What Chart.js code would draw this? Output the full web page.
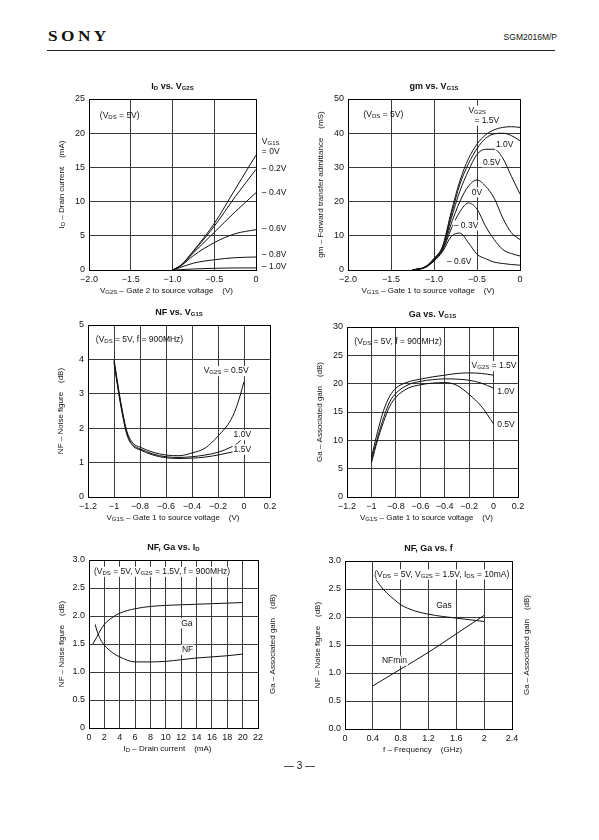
<!DOCTYPE html>
<html>
<head>
<meta charset="utf-8">
<script src="https://cdn.jsdelivr.net/npm/chart.js@4.4.1/dist/chart.umd.min.js"></script>
<style>
  html, body { margin: 0; background: #fff; }
  #page { position: relative; width: 599px; height: 840px; overflow: hidden; font-family: "Liberation Sans", Arial, sans-serif; color: #111; }
  #page canvas { position: absolute; left: 0; top: 0; }
  .brand { position: absolute; left: 48px; top: 28px; font: bold 15px "Liberation Serif", serif; letter-spacing: 3px; transform: scaleX(1.15); transform-origin: left; }
  .part { position: absolute; right: 42px; top: 32px; font-size: 8.5px; }
  .rule { position: absolute; left: 47px; width: 508px; top: 50px; border-top: 1.5px solid #222; }
  .folio { position: absolute; left: 0; width: 599px; top: 760px; text-align: center; font-size: 10px; }
</style>
</head>
<body>
<div id="page">
  <div class="brand">SONY</div>
  <div class="part">SGM2016M/P</div>
  <div class="rule"></div>
  <canvas id="c1" width="599" height="840"></canvas>
  <canvas id="c2" width="599" height="840"></canvas>
  <canvas id="c3" width="599" height="840"></canvas>
  <canvas id="c4" width="599" height="840"></canvas>
  <canvas id="c5" width="599" height="840"></canvas>
  <canvas id="c6" width="599" height="840"></canvas>
  <div class="folio">— 3 —</div>
</div>
<script>
// ---- ID vs. VG2S (mA), one curve per VG1S ----
const vg2s = [-1.0, -0.9, -0.75, -0.5, -0.25, 0];
const idG1s0 = [0, 0.7, 2.8, 6.8, 11.8, 16.8];
const idG1sM02 = [0, 0.7, 2.7, 6.4, 10.7, 14.7];
const idG1sM04 = [0, 0.65, 2.5, 5.5, 8.5, 11.3];
const idG1sM06 = [0, 0.6, 2.1, 4.0, 5.3, 5.9];
const idG1sM08 = [0, 0.4, 1.0, 1.5, 1.8, 1.9];
const idG1sM10 = [0, 0.05, 0.15, 0.25, 0.3, 0.3];
const idXTicks = [-2, -1.5, -1, -0.5, 0];
const idXLabels = ['−2.0', '−1.5', '−1.0', '−0.5', '0'];
const idYTicks = [0, 5, 10, 15, 20, 25];
const idYLabels = ['0', '5', '10', '15', '20', '25'];

// ---- gm vs. VG1S (mS), one curve per VG2S ----
const vg1sGm = [-1.25, -1.1, -1.0, -0.9, -0.8, -0.7, -0.6, -0.5, -0.4, -0.3, -0.2, -0.1, 0];
const gmG2s15 = [0, 1.0, 3.4, 7.0, 17.0, 26.0, 32.5, 36.8, 39.5, 41.0, 41.7, 41.9, 41.7];
const gmG2s10 = [0, 0.95, 3.3, 6.7, 16.0, 25.0, 31.0, 35.5, 38.5, 39.8, 40.0, 39.3, 37.8];
const gmG2s05 = [0, 0.9, 3.1, 6.4, 15.0, 23.0, 29.0, 33.8, 35.3, 35.3, 32.7, 27.4, 22.2];
const gmG2s0 = [0, 0.85, 3.0, 6.1, 13.5, 20.0, 24.5, 26.3, 24.5, 21.0, 15.2, 10.9, 8.9];
const gmG2sM03 = [0, 0.8, 2.8, 5.8, 12.0, 17.0, 19.6, 17.8, 12.8, 8.9, 6.0, 4.8, 4.1];
const gmG2sM06 = [0, 0.75, 2.6, 5.4, 9.8, 10.8, 8.0, 4.6, 3.3, 2.3, 1.9, 1.6, 1.4];
const gmXTicks = [-2, -1.5, -1, -0.5, 0];
const gmXLabels = ['−2.0', '−1.5', '−1.0', '−0.5', '0'];
const gmYTicks = [0, 10, 20, 30, 40, 50];
const gmYLabels = ['0', '10', '20', '30', '40', '50'];

// ---- NF vs. VG1S (dB) ----
const vg1sNf = [-1.0, -0.95, -0.9, -0.85, -0.8, -0.7, -0.6, -0.5, -0.4, -0.3, -0.2, -0.1, -0.05, 0];
const nfG2s05 = [4.0, 2.8, 1.9, 1.55, 1.45, 1.3, 1.22, 1.2, 1.28, 1.42, 1.77, 2.25, 2.7, 3.35];
const nfG2s10 = [3.95, 2.75, 1.85, 1.5, 1.4, 1.25, 1.17, 1.15, 1.17, 1.22, 1.3, 1.45, 1.56, 1.75];
const nfG2s15 = [3.9, 2.7, 1.8, 1.47, 1.37, 1.22, 1.14, 1.12, 1.13, 1.16, 1.22, 1.3, 1.34, 1.38];
const vg1sXTicks = [-1.2, -1, -0.8, -0.6, -0.4, -0.2, 0, 0.2];
const vg1sXLabels = ['−1.2', '−1', '−0.8', '−0.6', '−0.4', '−0.2', '0', '0.2'];
const nfYTicks = [0, 1, 2, 3, 4, 5];
const nfYLabels = ['0', '1', '2', '3', '4', '5'];

// ---- Ga vs. VG1S (dB) ----
const vg1sGa = [-1.0, -0.95, -0.9, -0.85, -0.8, -0.7, -0.6, -0.5, -0.4, -0.3, -0.2, -0.1, 0];
const gaG2s15 = [7.0, 11.5, 15.3, 17.8, 19.2, 20.3, 20.8, 21.2, 21.5, 21.8, 21.9, 21.8, 21.5];
const gaG2s10 = [6.5, 10.5, 14.0, 16.8, 18.3, 19.8, 20.4, 20.7, 20.85, 20.8, 20.6, 20.1, 19.2];
const gaG2s05 = [6.0, 10.0, 13.3, 16.0, 17.6, 19.2, 19.8, 20.1, 20.2, 19.7, 18.1, 16.0, 12.9];
const gaYTicks = [0, 5, 10, 15, 20, 25, 30];
const gaYLabels = ['0', '5', '10', '15', '20', '25', '30'];

// ---- NF, Ga vs. ID ----
const idGa = [0.5, 1, 1.5, 2, 3, 4, 6, 8, 10, 12, 14, 16, 18, 20];
const gaVsId = [1.5, 1.62, 1.75, 1.85, 1.97, 2.05, 2.13, 2.17, 2.19, 2.2, 2.21, 2.22, 2.23, 2.24];
const idNf = [0.8, 1, 1.5, 2, 3, 4, 6, 8, 10, 12, 14, 16, 18, 20];
const nfVsId = [1.85, 1.75, 1.58, 1.48, 1.35, 1.27, 1.18, 1.18, 1.19, 1.22, 1.25, 1.27, 1.29, 1.32];
const idXTicks2 = [0, 2, 4, 6, 8, 10, 12, 14, 16, 18, 20, 22];
const idXLabels2 = ['0', '2', '4', '6', '8', '10', '12', '14', '16', '18', '20', '22'];
const nfgYTicks = [0, 0.5, 1, 1.5, 2, 2.5, 3];
const nfgYLabels = ['0', '0.5', '1.0', '1.5', '2.0', '2.5', '3.0'];

// ---- NF, Ga vs. f ----
const fGas = [0.4, 0.5, 0.6, 0.7, 0.8, 1.0, 1.2, 1.4, 1.6, 1.8, 2.0];
const gasVsF = [2.75, 2.57, 2.43, 2.32, 2.22, 2.11, 2.05, 2.01, 1.98, 1.95, 1.92];
const fNf = [0.4, 0.8, 1.2, 1.6, 2.0];
const nfminVsF = [0.77, 1.07, 1.37, 1.7, 2.03];
const fXTicks = [0, 0.4, 0.8, 1.2, 1.6, 2.0, 2.4];
const fXLabels = ['0', '0.4', '0.8', '1.2', '1.6', '2', '2.4'];
const fYLabels = ['0.0', '0.5', '1.0', '1.5', '2.0', '2.5', '3.0'];

const PAGE_W = 599, PAGE_H = 840;
const FAMILY = '"Liberation Sans", Arial, sans-serif';

// Draw text with _{sub} subscripts
function richText(ctx, str, x, y, opt = {}) {
    const size = opt.size || 8;
    const weight = opt.bold ? 'bold ' : '';
    const parts = str.split(/(_\{[^}]*\})/).filter(p => p).map(p =>
        p.startsWith('_{') ? { t: p.slice(2, -1), sub: true } : { t: p, sub: false });
    const fontOf = sub => `${weight}${sub ? Math.round(size * 0.72) : size}px ${FAMILY}`;
    let w = 0;
    parts.forEach(p => { ctx.font = fontOf(p.sub); p.w = ctx.measureText(p.t).width; w += p.w; });
    let cx = opt.align === 'center' ? x - w / 2 : opt.align === 'right' ? x - w : x;
    ctx.save();
    ctx.textBaseline = 'middle';
    ctx.textAlign = 'left';
    if (opt.bg) {
        ctx.fillStyle = '#fff';
        ctx.fillRect(cx - 1, y - size * 0.6, w + 2, size * 1.2);
    }
    ctx.fillStyle = '#111';
    parts.forEach(p => {
        ctx.font = fontOf(p.sub);
        ctx.fillText(p.t, cx, p.sub ? y + size * 0.2 : y);
        cx += p.w;
    });
    ctx.restore();
}

function vText(ctx, str, x, y, opt = {}) {
    ctx.save();
    ctx.translate(x, y);
    ctx.rotate(-Math.PI / 2);
    richText(ctx, str, 0, 0, { ...opt, align: 'center' });
    ctx.restore();
}

const axisCfg = (vals, labels, isX) => ({
    type: 'linear',
    min: vals[0],
    max: vals[vals.length - 1],
    afterBuildTicks: s => { s.ticks = vals.map(v => ({ value: v })); },
    afterFit: s => { if (isX) s.height = 18; else s.width = 30; },
    grid: { color: '#3a3a3a', lineWidth: 1, drawTicks: false },
    border: { color: '#000', width: 1 },
    ticks: {
        padding: 4, autoSkip: false, maxRotation: 0, color: '#111',
        font: { size: 9, family: FAMILY },
        callback: (v, i) => labels[i]
    }
});

function plotChart(id, area, xTicks, xLabels, yTicks, yLabels, series, text) {
    return new Chart(document.getElementById(id), {
        type: 'line',
        data: {
            datasets: series.map(s => ({
                data: s.x.map((x, i) => ({ x, y: s.y[i] })),
                borderColor: '#111',
                borderWidth: 1,
                pointRadius: 0,
                fill: false,
                cubicInterpolationMode: 'monotone'
            }))
        },
        options: {
            responsive: false,
            animation: false,
            events: [],
            layout: { padding: { left: area.l - 30, right: PAGE_W - area.r, top: area.t, bottom: PAGE_H - area.b - 18 } },
            plugins: { legend: { display: false }, tooltip: { enabled: false } },
            scales: {
                x: axisCfg(xTicks, xLabels, true),
                y: axisCfg(yTicks, yLabels, false)
            }
        },
        plugins: [{
            id: 'sheetText',
            afterDraw: c => {
                const ctx = c.ctx, a = c.chartArea;
                const X = v => c.scales.x.getPixelForValue(v);
                const Y = v => c.scales.y.getPixelForValue(v);
                ctx.save();
                ctx.strokeStyle = '#000';
                ctx.lineWidth = 1;
                ctx.strokeRect(Math.round(a.left) + 0.5, Math.round(a.top) + 0.5,
                    Math.round(a.right - a.left), Math.round(a.bottom - a.top));
                ctx.restore();
                richText(ctx, text.title, (a.left + a.right) / 2, a.top - 12, { size: 9, bold: true, align: 'center' });
                vText(ctx, text.yTitle, a.left - 27, (a.top + a.bottom) / 2);
                if (text.rTitle) vText(ctx, text.rTitle, a.right + 15, (a.top + a.bottom) / 2);
                richText(ctx, text.xTitle, (a.left + a.right) / 2 - 6, a.bottom + 21, { align: 'center' });
                text.notes.forEach(n => richText(ctx, n.s, X(n.x), Y(n.y), { bg: n.bg, size: n.size || 8.5 }));
            }
        }]
    });
}

document.addEventListener('DOMContentLoaded', () => {
    plotChart('c1', { l: 89, r: 256, t: 99, b: 270 }, idXTicks, idXLabels, idYTicks, idYLabels, [
        { x: vg2s, y: idG1s0 }, { x: vg2s, y: idG1sM02 }, { x: vg2s, y: idG1sM04 },
        { x: vg2s, y: idG1sM06 }, { x: vg2s, y: idG1sM08 }, { x: vg2s, y: idG1sM10 }
    ], {
        title: 'I_{D} vs. V_{G2S}',
        yTitle: 'I_{D} – Drain current    (mA)',
        xTitle: 'V_{G2S} – Gate 2 to source voltage    (V)',
        notes: [
            { s: '(V_{DS} = 5V)', x: -1.87, y: 22.6 },
            { s: 'V_{G1S}', x: 0.07, y: 18.8 },
            { s: '= 0V', x: 0.07, y: 17.3 },
            { s: '– 0.2V', x: 0.07, y: 14.8 },
            { s: '– 0.4V', x: 0.07, y: 11.3 },
            { s: '– 0.6V', x: 0.07, y: 6.0 },
            { s: '– 0.8V', x: 0.07, y: 2.2 },
            { s: '– 1.0V', x: 0.07, y: 0.5 }
        ]
    });

    plotChart('c2', { l: 348, r: 520, t: 99, b: 270 }, gmXTicks, gmXLabels, gmYTicks, gmYLabels, [
        { x: vg1sGm, y: gmG2s15 }, { x: vg1sGm, y: gmG2s10 }, { x: vg1sGm, y: gmG2s05 },
        { x: vg1sGm, y: gmG2s0 }, { x: vg1sGm, y: gmG2sM03 }, { x: vg1sGm, y: gmG2sM06 }
    ], {
        title: 'gm vs. V_{G1S}',
        yTitle: 'gm – Forward transfer admittance    (mS)',
        xTitle: 'V_{G1S} – Gate 1 to source voltage    (V)',
        notes: [
            { s: '(V_{DS} = 5V)', x: -1.82, y: 45.3 },
            { s: 'V_{G2S}', x: -0.6, y: 46.6, bg: true },
            { s: '= 1.5V', x: -0.53, y: 43.7, bg: true },
            { s: '1.0V', x: -0.28, y: 36.6, bg: true },
            { s: '0.5V', x: -0.43, y: 31.5, bg: true },
            { s: '0V', x: -0.56, y: 22.7, bg: true },
            { s: '– 0.3V', x: -0.77, y: 13.0, bg: true },
            { s: '– 0.6V', x: -0.85, y: 2.5, bg: true }
        ]
    });

    plotChart('c3', { l: 88, r: 270, t: 325, b: 497 }, vg1sXTicks, vg1sXLabels, nfYTicks, nfYLabels, [
        { x: vg1sNf, y: nfG2s05 }, { x: vg1sNf, y: nfG2s10 }, { x: vg1sNf, y: nfG2s15 }
    ], {
        title: 'NF vs. V_{G1S}',
        yTitle: 'NF – Noise figure    (dB)',
        xTitle: 'V_{G1S} – Gate 1 to source voltage    (V)',
        notes: [
            { s: '(V_{DS} = 5V, f = 900MHz)', x: -1.14, y: 4.58 },
            { s: 'V_{G2S} = 0.5V', x: -0.31, y: 3.66, bg: true },
            { s: '1.0V', x: -0.08, y: 1.8, bg: true },
            { s: '1.5V', x: -0.08, y: 1.38, bg: true }
        ]
    });

    plotChart('c4', { l: 347, r: 518, t: 327, b: 497 }, vg1sXTicks, vg1sXLabels, gaYTicks, gaYLabels, [
        { x: vg1sGa, y: gaG2s15 }, { x: vg1sGa, y: gaG2s10 }, { x: vg1sGa, y: gaG2s05 }
    ], {
        title: 'Ga vs. V_{G1S}',
        yTitle: 'Ga – Associated gain    (dB)',
        xTitle: 'V_{G1S} – Gate 1 to source voltage    (V)',
        notes: [
            { s: '(V_{DS} = 5V, f = 900MHz)', x: -1.14, y: 27.5 },
            { s: 'V_{G2S} = 1.5V', x: -0.18, y: 23.1, bg: true },
            { s: '1.0V', x: 0.03, y: 18.6, bg: true },
            { s: '0.5V', x: 0.03, y: 12.7, bg: true }
        ]
    });

    plotChart('c5', { l: 89, r: 258, t: 560, b: 728 }, idXTicks2, idXLabels2, nfgYTicks, nfgYLabels, [
        { x: idGa, y: gaVsId }, { x: idNf, y: nfVsId }
    ], {
        title: 'NF, Ga vs. I_{D}',
        yTitle: 'NF – Noise figure    (dB)',
        rTitle: 'Ga – Associated gain    (dB)',
        xTitle: 'I_{D} – Drain current    (mA)',
        notes: [
            { s: '(V_{DS} = 5V, V_{G2S} = 1.5V, f = 900MHz)', x: 0.65, y: 2.79, bg: true },
            { s: 'Ga', x: 12.0, y: 1.87, bg: true },
            { s: 'NF', x: 12.1, y: 1.40, bg: true }
        ]
    });

    plotChart('c6', { l: 345, r: 512, t: 561, b: 729 }, fXTicks, fXLabels, nfgYTicks, fYLabels, [
        { x: fGas, y: gasVsF }, { x: fNf, y: nfminVsF }
    ], {
        title: 'NF, Ga vs. f',
        yTitle: 'NF – Noise figure    (dB)',
        rTitle: 'Ga – Associated gain    (dB)',
        xTitle: 'f – Frequency    (GHz)',
        notes: [
            { s: '(V_{DS} = 5V, V_{G2S} = 1.5V, I_{DS} = 10mA)', x: 0.42, y: 2.76, bg: true },
            { s: 'Gas', x: 1.31, y: 2.2, bg: true },
            { s: 'NFmin', x: 0.53, y: 1.22, bg: true }
        ]
    });
});
</script>
</body>
</html>
